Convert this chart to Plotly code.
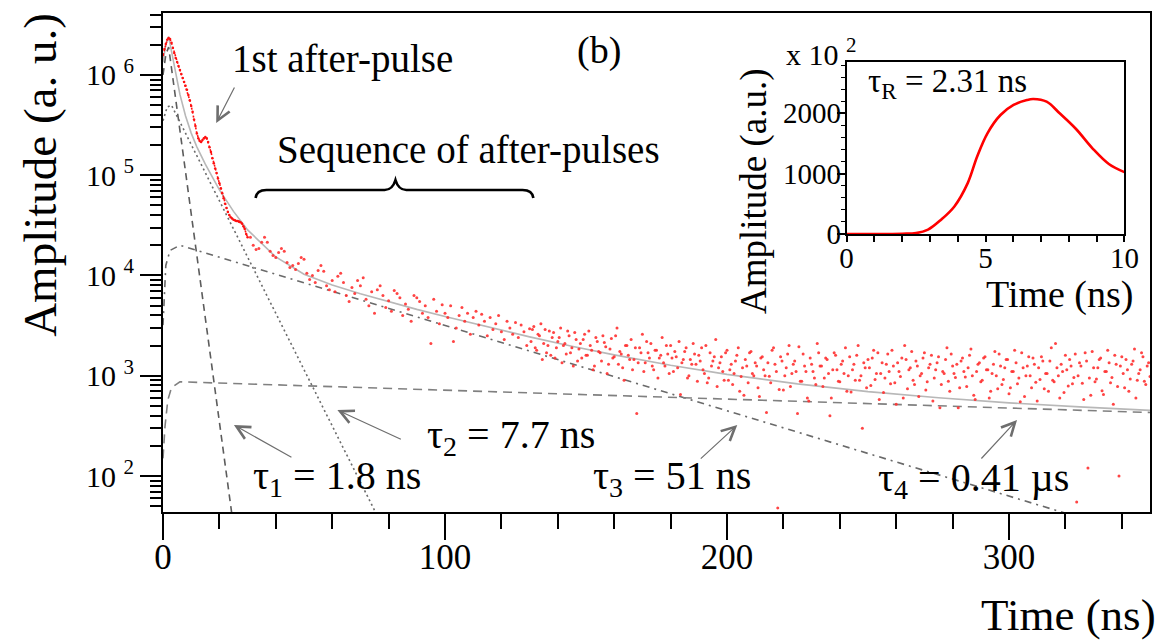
import plotly.graph_objects as go

# ---------------- data ----------------
# measured pulse, 0..30 ns sampled every 0.5 ns
early_t0, early_dt = 0, 0.5
amp_early = [1.58e6, 1.82e6, 2.04e6, 2.24e6, 2.34e6, 2.29e6, 2.09e6, 1.86e6, 1.66e6, 1.48e6,
             1.35e6, 1.23e6, 1.12e6, 1.02e6, 9.3e5, 8.5e5, 7.8e5, 7.1e5, 6.3e5, 5.6e5,
             4.9e5, 4.3e5, 3.6e5, 3.1e5, 2.6e5, 2.34e5, 2.19e5, 2.14e5, 2.24e5, 2.34e5,
             2.4e5, 2.34e5, 2.14e5, 1.9e5, 1.7e5, 1.48e5, 1.32e5, 1.17e5, 1.05e5, 9.3e4,
             8.3e4, 7.4e4, 6.6e4, 5.9e4, 5.2e4, 4.7e4, 4.3e4, 4.0e4, 3.8e4, 3.7e4,
             3.6e4, 3.55e4, 3.5e4, 3.5e4, 3.45e4, 3.4e4, 3.3e4, 3.1e4, 2.9e4, 2.6e4, 2.4e4]

# measured pulse, 31..130 ns every 1 ns (sequence of after-pulses)
mid_t0, mid_dt = 31, 1
amp_mid = [2.4e4, 2.0e4, 1.82e4, 1.86e4, 2.14e4, 2.4e4, 2.14e4, 1.74e4, 1.58e4, 1.51e4,
           1.70e4, 1.86e4, 1.74e4, 1.35e4, 1.20e4, 1.26e4, 1.15e4, 1.32e4, 1.51e4, 1.45e4,
           1.05e4, 9.1e3, 1.0e4, 8.5e3, 1.12e4, 1.26e4, 1.10e4, 7.9e3, 7.2e3, 8.9e3,
           6.9e3, 9.8e3, 1.05e4, 8.5e3, 6.3e3, 5.5e3, 7.6e3, 6.6e3, 8.9e3, 7.9e3,
           9.5e3, 5.8e3, 5.0e3, 6.9e3, 4.2e3, 7.2e3, 7.9e3, 6.3e3, 4.8e3, 5.6e3,
           4.4e3, 7.1e3, 6.6e3, 6.0e3, 4.0e3, 5.2e3, 4.6e3, 3.5e3, 6.3e3, 6.0e3,
           5.5e3, 4.2e3, 5.0e3, 3.8e3, 2.1e3, 5.8e3, 4.4e3, 3.3e3, 5.1e3, 4.2e3,
           3.8e3, 5.0e3, 2.2e3, 3.0e3, 4.0e3, 4.8e3, 3.5e3, 4.2e3, 2.6e3, 3.8e3,
           4.4e3, 3.2e3, 4.1e3, 3.5e3, 2.5e3, 3.8e3, 2.9e3, 3.3e3, 4.0e3, 2.75e3,
           2.3e3, 3.5e3, 3.0e3, 2.6e3, 3.4e3, 2.4e3, 3.2e3, 2.75e3, 2.0e3, 2.95e3]

# measured pulse, 131..350 ns every 1 ns (noisy tail)
tail_t0, tail_dt = 131, 1
amp_tail = [2900, 1900, 2600, 3300, 2100, 1700, 2800, 2400, 1500, 2200,
            3000, 2000, 1650, 2500, 1900, 2700, 1400, 2100, 2300, 1600,
            2800, 1800, 1250, 2200, 1700, 2500, 1950, 1300, 2350, 1550,
            3000, 1750, 1200, 2000, 1600, 2300, 1450, 420, 1900, 2600,
            1350, 1700, 2100, 1150, 1800, 1500, 2400, 1250, 1650, 2000,
            1100, 1550, 2200, 1350, 1750, 950, 1450, 2100, 1300, 1600,
            1900, 1050, 850, 1700, 1400, 2300, 1200, 1550, 900, 1800,
            1150, 820, 1400, 1900, 980, 640, 1250, 1700, 1050, 1350,
            760, 1500, 1150, 430, 990, 1800, 1300, 48, 1550, 720,
            1200, 2000, 1050, 1400, 420, 880, 1650, 1100, 560, 1300,
            950, 2100, 1250, 780, 1500, 1050, 600, 1700, 1150, 870,
            1400, 1900, 1000, 690, 1300, 1600, 900, 300, 1200, 1450,
            800, 1800, 1050, 580, 1350, 950, 1650, 830, 1250, 520,
            1100, 1500, 2000, 740, 1200, 900, 1400, 620, 1050, 1700,
            870, 1300, 560, 1150, 1550, 820, 1050, 1900, 700, 1250,
            960, 480, 1400, 1100, 780, 1600, 1000, 580, 1300, 870,
            1500, 1150, 600, 1050, 1750, 740, 1250, 920, 1450, 660,
            1100, 1800, 830, 550, 1200, 1000, 1550, 760, 1300, 560,
            920, 1400, 1050, 700, 1900, 870, 1200, 600, 1100, 1600,
            790, 1250, 960, 55, 1350, 840, 1700, 120, 640, 1200,
            930, 1450, 710, 1100, 1800, 850, 520, 1300, 100, 1550,
            760, 1150, 930, 1400, 600, 1050, 1700, 880, 1250, 980]

# measured pulse, 130.5..349.5 ns every 1 ns (interleaved samples of the tail)
tail2_t0, tail2_dt = 130.5, 1
amp_tail2 = [2200, 3100, 1800, 2500, 1450, 2900, 2000, 1600, 2700, 1900,
             2400, 1350, 2100, 2800, 1700, 1250, 2300, 1850, 1500, 2600,
             1600, 2000, 1150, 2400, 1750, 1400, 2150, 1050, 1850, 1500,
             2500, 1300, 1650, 900, 2000, 1450, 1150, 1900, 1350, 1700,
             1100, 2200, 1500, 1250, 1800, 950, 1600, 1350, 2000, 1050,
             1500, 1750, 1200, 650, 1450, 1900, 1000, 1300, 1650, 880,
             1400, 1150, 2000, 950, 1250, 1550, 780, 1350, 1100, 1700,
             900, 1300, 1050, 1600, 700, 1200, 1450, 850, 1750, 1000,
             1250, 620, 1550, 1000, 1350, 850, 1900, 1100, 730, 1400,
             1000, 1650, 780, 1300, 1100, 1950, 880, 1250, 600, 1500,
             1100, 820, 1700, 1250, 950, 1450, 400, 1150, 1600, 880,
             1300, 1050, 700, 1550, 1150, 900, 2000, 1000, 1350, 760,
             1200, 1500, 920, 1700, 1050, 680, 1300, 1100, 1800, 850,
             1350, 980, 600, 1450, 1150, 1750, 820, 1250, 1000, 1500,
             720, 1200, 1600, 950, 1350, 480, 1100, 1450, 880, 1650,
             1050, 1300, 760, 1500, 970, 1200, 1850, 640, 1100, 1350,
             900, 1550, 1150, 700, 1300, 1000, 1650, 820, 1200, 1450,
             760, 1100, 1350, 950, 1700, 620, 1250, 1000, 1500, 860,
             1200, 1550, 740, 1050, 1400, 900, 2100, 1000, 1300, 680,
             1150, 1450, 830, 1650, 1000, 1250, 580, 1400, 950, 1750,
             870, 1200, 1500, 650, 1100, 1350, 960, 1600, 780, 1250,
             1050, 1450, 700, 1300, 1850, 900, 1150, 1550, 820, 1350]

# fit components (tau1 .. tau4) and total fit
t_fit1 = [0, 1, 2, 24.5]
a_fit1 = [1.0e6, 1.6e6, 1.9e6, 40]
t_fit2 = [0, 1.5, 3, 76]
a_fit2 = [3.5e5, 4.8e5, 5.0e5, 40]
t_fit3 = [0, 1, 2.5, 6, 330]
a_fit3 = [3.2e3, 1.26e4, 1.78e4, 2.0e4, 35]
t_fit4 = [0, 0.7, 1.7, 3, 6, 350]
a_fit4 = [150, 310, 570, 760, 870, 430]
t_total = [0, 1, 2, 3, 4, 5, 6, 8, 10, 12, 15, 20, 25, 30, 40, 50, 60, 70, 80, 90,
           100, 115, 130, 145, 160, 180, 200, 225, 250, 275, 300, 325, 350]
a_total = [1.35e6, 2.03e6, 2.41e6, 1.70e6, 1.19e6, 8.6e5, 6.4e5, 3.9e5, 2.63e5, 1.92e5,
           1.29e5, 7.15e4, 4.36e4, 2.85e4, 1.53e4, 1.03e4, 8040, 6560, 5460, 4590,
           3900, 3065, 2440, 1971, 1616, 1272, 1032, 829, 694, 603, 536, 489, 451]

# inset: rise of the pulse
inset_t = [0, 1, 2, 2.5, 2.93, 3.4, 3.88, 4.36, 4.7, 5.07, 5.54, 6.01, 6.49, 6.72,
           7.2, 7.67, 8.26, 8.85, 9.44, 10]
inset_a = [0, 0, 5, 15, 72, 237, 457, 843, 1284, 1669, 1972, 2138, 2220, 2237,
           2193, 2000, 1740, 1420, 1160, 1025]

# tick labels
y_major = [1e2, 1e3, 1e4, 1e5, 1e6]
y_major_text = ["10 <sup>2</sup>", "10 <sup>3</sup>", "10 <sup>4</sup>", "10 <sup>5</sup>", "10 <sup>6</sup>"]
y_minor = [50, 60, 70, 80, 90,
           200, 300, 400, 500, 600, 700, 800, 900,
           2000, 3000, 4000, 5000, 6000, 7000, 8000, 9000,
           2e4, 3e4, 4e4, 5e4, 6e4, 7e4, 8e4, 9e4,
           2e5, 3e5, 4e5, 5e5, 6e5, 7e5, 8e5, 9e5,
           2e6, 3e6, 4e6]
x_major = [0, 100, 200, 300]

# ---------------- layout helpers ----------------
W, H = 1169, 643
L, R, T, B = 163, 4, 13, 131
PW, PH = W - L - R, H - T - B
FONT = "Liberation Serif, Times New Roman, Times, serif"


def px(x):
    return (x - L) / PW


def py(y):
    return (H - B - y) / PH


fig = go.Figure()

fig.add_trace(go.Scatter(x=t_total, y=a_total, mode="lines",
                         line=dict(color="#b8b8b8", width=1.6)))
fig.add_trace(go.Scatter(x=t_fit1, y=a_fit1, mode="lines",
                         line=dict(color="#5c5c5c", width=1.6, dash="7px,5px")))
fig.add_trace(go.Scatter(x=t_fit2, y=a_fit2, mode="lines",
                         line=dict(color="#6a6a6a", width=1.6, dash="2px,3px")))
fig.add_trace(go.Scatter(x=t_fit3, y=a_fit3, mode="lines",
                         line=dict(color="#6a6a6a", width=1.6, dash="7px,5px,2px,5px")))
fig.add_trace(go.Scatter(x=t_fit4, y=a_fit4, mode="lines",
                         line=dict(color="#808080", width=1.6, dash="9px,6px")))

fig.add_trace(go.Scatter(x0=early_t0, dx=early_dt, y=amp_early, mode="lines+markers",
                         line=dict(color="#ff1010", width=1.6, dash="2px,2px"),
                         marker=dict(size=2.5, color="#ff1010")))
dot = dict(size=3, color="#ff3030", opacity=0.9)
fig.add_trace(go.Scatter(x0=mid_t0, dx=mid_dt, y=amp_mid, mode="markers", marker=dot))
fig.add_trace(go.Scatter(x0=tail_t0, dx=tail_dt, y=amp_tail, mode="markers", marker=dot))
fig.add_trace(go.Scatter(x0=tail2_t0, dx=tail2_dt, y=amp_tail2, mode="markers", marker=dot))

fig.add_trace(go.Scatter(x=inset_t, y=inset_a, mode="lines", xaxis="x2", yaxis="y2",
                         line=dict(color="#ff0000", width=2.6, shape="spline")))

axis_common = dict(showline=True, linecolor="black", mirror=True, showgrid=False,
                   zeroline=False, ticks="outside", tickcolor="black")

fig.update_layout(
    width=W, height=H, autosize=False,
    margin=dict(l=L, r=R, t=T, b=B, pad=0),
    paper_bgcolor="white", plot_bgcolor="white", showlegend=False,
    font=dict(family=FONT, color="black"),
    xaxis=dict(**axis_common, domain=[0, 1], range=[0, 350], linewidth=2,
               tickmode="array", tickvals=x_major, ticklen=26, tickwidth=2,
               ticklabelstandoff=-13,
               tickfont=dict(size=35, family=FONT),
               minor=dict(ticks="outside", ticklen=15, tickwidth=2, tickcolor="black",
                          tick0=0, dtick=20, showgrid=False)),
    yaxis=dict(**axis_common, type="log", domain=[0, 1], range=[1.641, 6.618], linewidth=2,
               tickmode="array", tickvals=y_major, ticktext=y_major_text,
               ticklen=21, tickwidth=2, tickfont=dict(size=30, family=FONT),
               minor=dict(ticks="outside", ticklen=11, tickwidth=2, tickcolor="black",
                          tickmode="array", tickvals=y_minor, showgrid=False)),
    xaxis2=dict(**axis_common, anchor="y2", domain=[px(857), px(1139)], range=[0, 10],
                linewidth=1.5, tickmode="array", tickvals=[0, 5, 10], ticklen=6, tickwidth=1.5,
                ticklabelstandoff=-9,
                tickfont=dict(size=29, family=FONT),
                minor=dict(ticks="outside", ticklen=6, tickwidth=1.5, tickcolor="black",
                           tick0=0, dtick=1, showgrid=False)),
    yaxis2=dict(**axis_common, anchor="x2", domain=[py(234), py(62)], range=[0, 2850],
                linewidth=1.5, tickmode="array", tickvals=[0, 1000, 2000], ticklen=8, tickwidth=1.5,
                ticklabelstandoff=-10,
                tickfont=dict(size=29, family=FONT),
                minor=dict(ticks="outside", ticklen=4, tickwidth=1.2, tickcolor="black",
                           tick0=0, dtick=200, showgrid=False)),
)

annotations = []


def text(s, x, y, size, angle=0):
    annotations.append(dict(text=s, x=px(x), y=py(y), xref="paper", yref="paper",
                            showarrow=False, xanchor="center", yanchor="middle",
                            textangle=angle, font=dict(size=size, family=FONT, color="black")))


def arrow(head, tail):
    annotations.append(dict(text="", x=px(head[0]), y=py(head[1]), xref="paper", yref="paper",
                            ax=tail[0] - head[0], ay=tail[1] - head[1], showarrow=True,
                            arrowhead=5, arrowsize=2.2, arrowwidth=1.2, arrowcolor="#6e6e6e",
                            standoff=0, startstandoff=0))


text("Amplitude (a. u.)", 38, 175, 47, -90)
text("Time (ns)", 1082, 615, 45)
text("1st after-pulse", 345, 59, 39)
text("(b)", 606, 51, 38)
text("Sequence of after-pulses", 473, 150, 39)
text("\u03c4<sub>1</sub> = 1.8 ns", 340, 478, 40)
text("\u03c4<sub>2</sub> = 7.7 ns", 516, 437, 40)
text("\u03c4<sub>3</sub> = 51 ns", 680, 478, 40)
text("\u03c4<sub>4</sub> = 0.41 \u00b5s", 986, 480, 40)
text("Amplitude (a.u.)", 763, 191, 37, -90)
text("Time (ns)", 1073, 294, 38)
text("x 10 <sup>2</sup>", 831, 52, 30)
text("\u03c4<sub>R</sub> = 2.31 ns", 959, 83, 33)

arrow((217, 123), (236, 86))
arrow((235, 425), (294, 458))
arrow((340, 410), (405, 440))
arrow((746, 425), (708, 460))
arrow((1030, 420), (993, 460))

fig.update_layout(annotations=annotations)

# curly brace under "Sequence of after-pulses"
brace = [("M", [(257, 198)]), ("Q", [(258, 190), (268, 190)]), ("L", [(388, 190)]),
         ("Q", [(396, 190), (399, 180)]), ("Q", [(402, 190), (410, 190)]),
         ("L", [(528, 190)]), ("Q", [(538, 190), (539, 198)])]
path = " ".join(cmd + " ".join(f"{px(a):.5f},{py(b):.5f}" for a, b in pts) for cmd, pts in brace)
fig.add_shape(type="path", path=path, xref="paper", yref="paper",
              line=dict(color="black", width=2.6))

fig.write_html("out.html")
